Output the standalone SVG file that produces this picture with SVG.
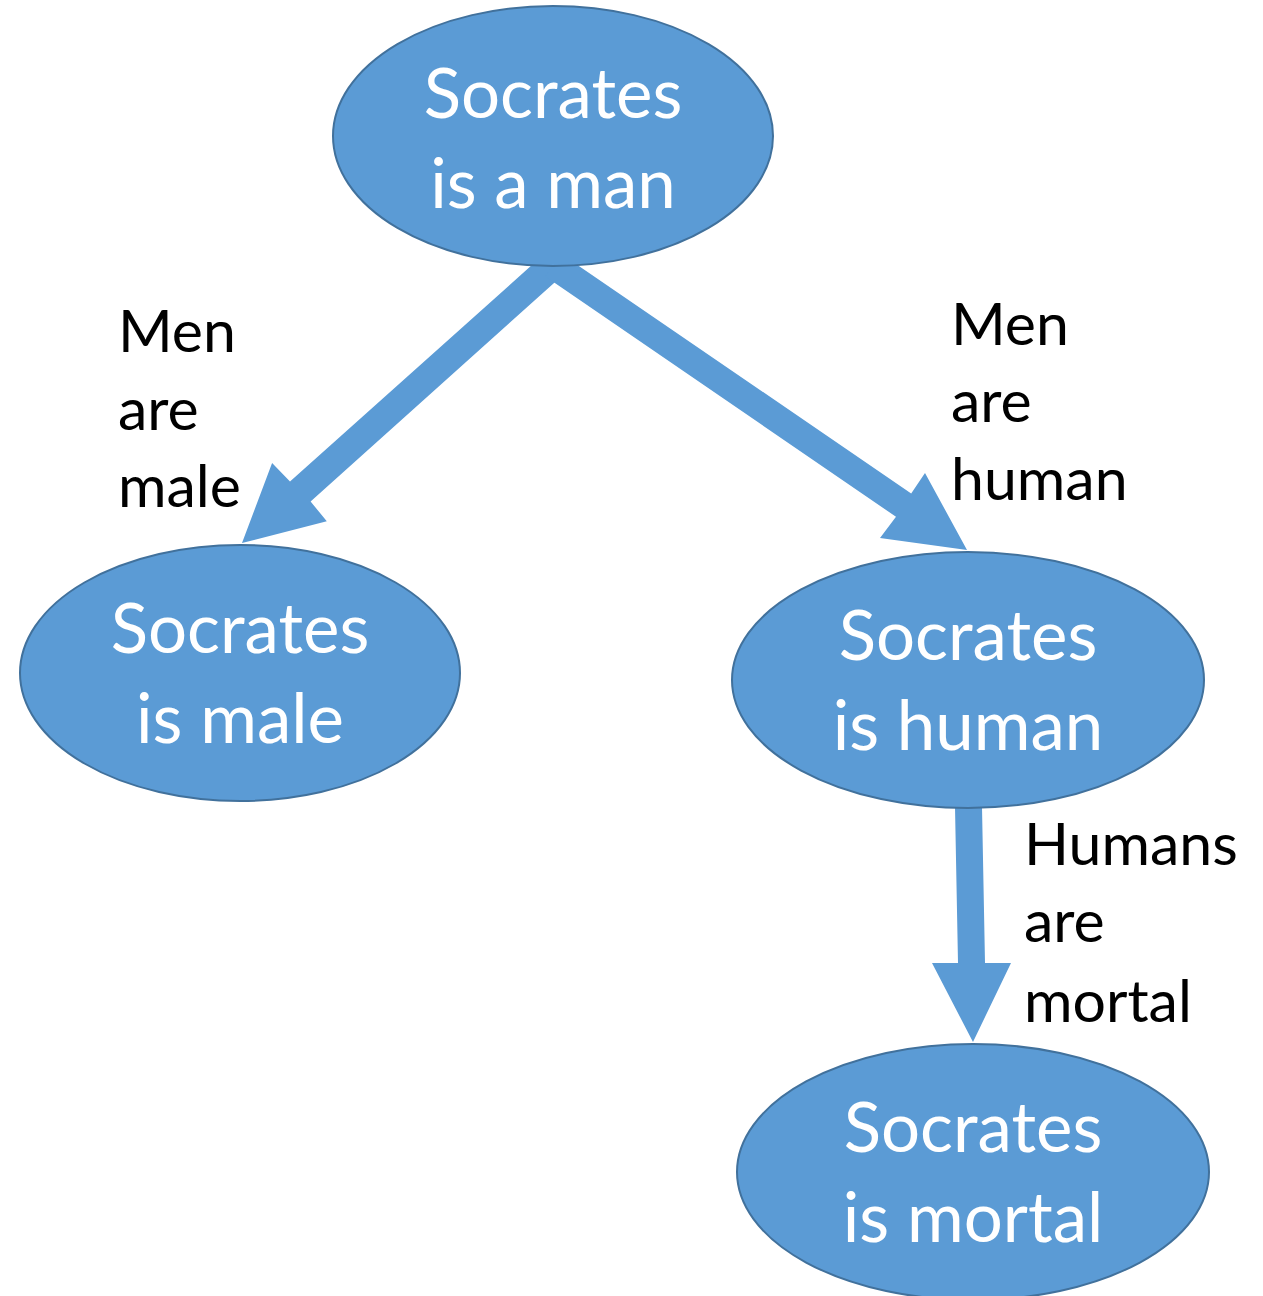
<svg xmlns="http://www.w3.org/2000/svg" width="1263" height="1296" viewBox="0 0 1263 1296">
<style>
.node{fill:#5B9BD5;stroke:#41719C;stroke-width:2}
.ntext{font-family:Lato,"Liberation Sans",sans-serif;font-size:69px;fill:#FFFFFF;text-anchor:middle}
.ltext{font-family:Lato,"Liberation Sans",sans-serif;font-size:59px;fill:#000000}
.conn{fill:#5B9BD5;stroke:none}
</style>
<rect width="1263" height="1296" fill="#FFFFFF"/>
<g id="connectors">
<polygon class="conn" points="543.6,254.6 562.4,275.4 310.6,501.5 326.8,521.3 242,543 272.1,463.1 290.0,481.5"/>
<polygon class="conn" points="560.6,253.5 545.4,276.5 896.0,516.8 880,538 967,550 925,473 911.2,493.5"/>
<polygon class="conn" points="955,807 982,807 985,963 1011,963 973,1042 932,963 958,963"/>
</g>
<g id="node-man">
<ellipse class="node" cx="553" cy="136" rx="220" ry="130"/>
<text class="ntext" x="553" y="118">Socrates</text>
<text class="ntext" x="553" y="208">is a man</text>
</g>
<g id="node-male">
<ellipse class="node" cx="240" cy="673" rx="220" ry="128"/>
<text class="ntext" x="240" y="653">Socrates</text>
<text class="ntext" x="240" y="743">is male</text>
</g>
<g id="node-human">
<ellipse class="node" cx="968" cy="680" rx="236" ry="128"/>
<text class="ntext" x="968" y="660">Socrates</text>
<text class="ntext" x="968" y="750">is human</text>
</g>
<g id="node-mortal">
<ellipse class="node" cx="973" cy="1172" rx="236" ry="128"/>
<text class="ntext" x="973" y="1152">Socrates</text>
<text class="ntext" x="973" y="1242">is mortal</text>
</g>
<g id="labels">
<text class="ltext" x="118" y="352">Men</text>
<text class="ltext" x="118" y="430">are</text>
<text class="ltext" x="118" y="507">male</text>
<text class="ltext" x="951" y="345">Men</text>
<text class="ltext" x="951" y="422">are</text>
<text class="ltext" x="951" y="500">human</text>
<text class="ltext" x="1024" y="865">Humans</text>
<text class="ltext" x="1024" y="942">are</text>
<text class="ltext" x="1024" y="1022">mortal</text>
</g>
</svg>
